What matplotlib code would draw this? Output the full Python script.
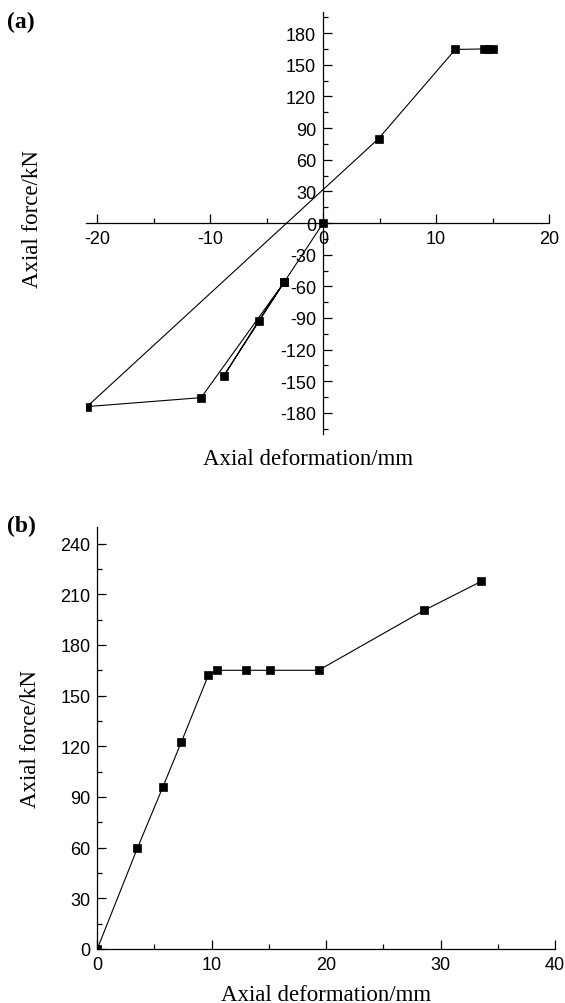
import matplotlib
matplotlib.use("Agg")
import matplotlib.pyplot as plt
from matplotlib.ticker import MultipleLocator

# (a) cyclic test: axial deformation (mm) vs axial force (kN)
defo_a = [0, -3.45, -5.7, -8.8, -3.45, -10.8, -20.9, 4.9, 11.7, 14.2, 14.6, 15.0]
force_a = [0, -56, -92.5, -145, -56, -165.5, -174, 80, 164.6, 165, 165, 165]

# (b) monotonic test
defo_b = [0, 3.5, 5.73, 7.34, 9.7, 10.43, 13.04, 15.12, 19.34, 28.57, 33.58]
force_b = [0, 59.6, 95.9, 122.4, 162, 165, 165, 165, 165, 200.5, 217.7]

serif = "Liberation Serif"
sans = "Liberation Sans"
plt.rcParams["font.family"] = sans
plt.rcParams["axes.unicode_minus"] = False

fig = plt.figure(figsize=(5.65, 10.04), dpi=100)

line_kw = dict(color="black", lw=0.8, marker="s", ms=5.3,
               mfc="black", mec="black", mew=0.5)


def style_ticks(ax):
    ax.tick_params(which="both", direction="in", width=0.9, labelsize=13)
    ax.tick_params(which="major", length=6.5, pad=5)
    ax.tick_params(which="minor", length=3.6)
    for s in ax.spines.values():
        s.set_linewidth(0.9)


# ---------------- panel (a) ----------------
ax1 = fig.add_axes([0.152, 0.5667, 0.820, 0.4203])
ax1.plot(defo_a, force_a, **line_kw)
ax1.set_xlim(-21, 20)
ax1.set_ylim(-200, 200)
ax1.spines["left"].set_position(("data", 0))
ax1.spines["bottom"].set_position(("data", 0))
ax1.spines["top"].set_visible(False)
ax1.spines["right"].set_visible(False)
ax1.xaxis.set_major_locator(MultipleLocator(10))
ax1.xaxis.set_minor_locator(MultipleLocator(5))
ax1.set_yticks(range(-180, 181, 30))
ax1.yaxis.set_minor_locator(MultipleLocator(15))
style_ticks(ax1)

fig.text(0.545, 0.542, "Axial deformation/mm", family=serif, fontsize=16.5,
         ha="center", va="center")
fig.text(0.058, 0.782, "Axial force/kN", family=serif, fontsize=16.5,
         rotation=90, ha="center", va="center")
fig.text(0.012, 0.978, "(a)", family=serif, fontsize=17, weight="bold",
         ha="left", va="center")

# ---------------- panel (b) ----------------
ax2 = fig.add_axes([0.1722, 0.0538, 0.810, 0.4206])
ax2.plot(defo_b, force_b, **line_kw)
ax2.set_xlim(0, 40)
ax2.set_ylim(0, 250)
ax2.spines["top"].set_visible(False)
ax2.spines["right"].set_visible(False)
ax2.xaxis.set_major_locator(MultipleLocator(10))
ax2.xaxis.set_minor_locator(MultipleLocator(5))
ax2.set_yticks(range(0, 241, 30))
ax2.yaxis.set_minor_locator(MultipleLocator(15))
style_ticks(ax2)
ax2.set_xlabel("Axial deformation/mm", family=serif, fontsize=16.5, labelpad=8)
ax2.set_ylabel("Axial force/kN", family=serif, fontsize=16.5, labelpad=14)
fig.text(0.012, 0.476, "(b)", family=serif, fontsize=17, weight="bold",
         ha="left", va="center")

fig.savefig("out.png", dpi=100)
